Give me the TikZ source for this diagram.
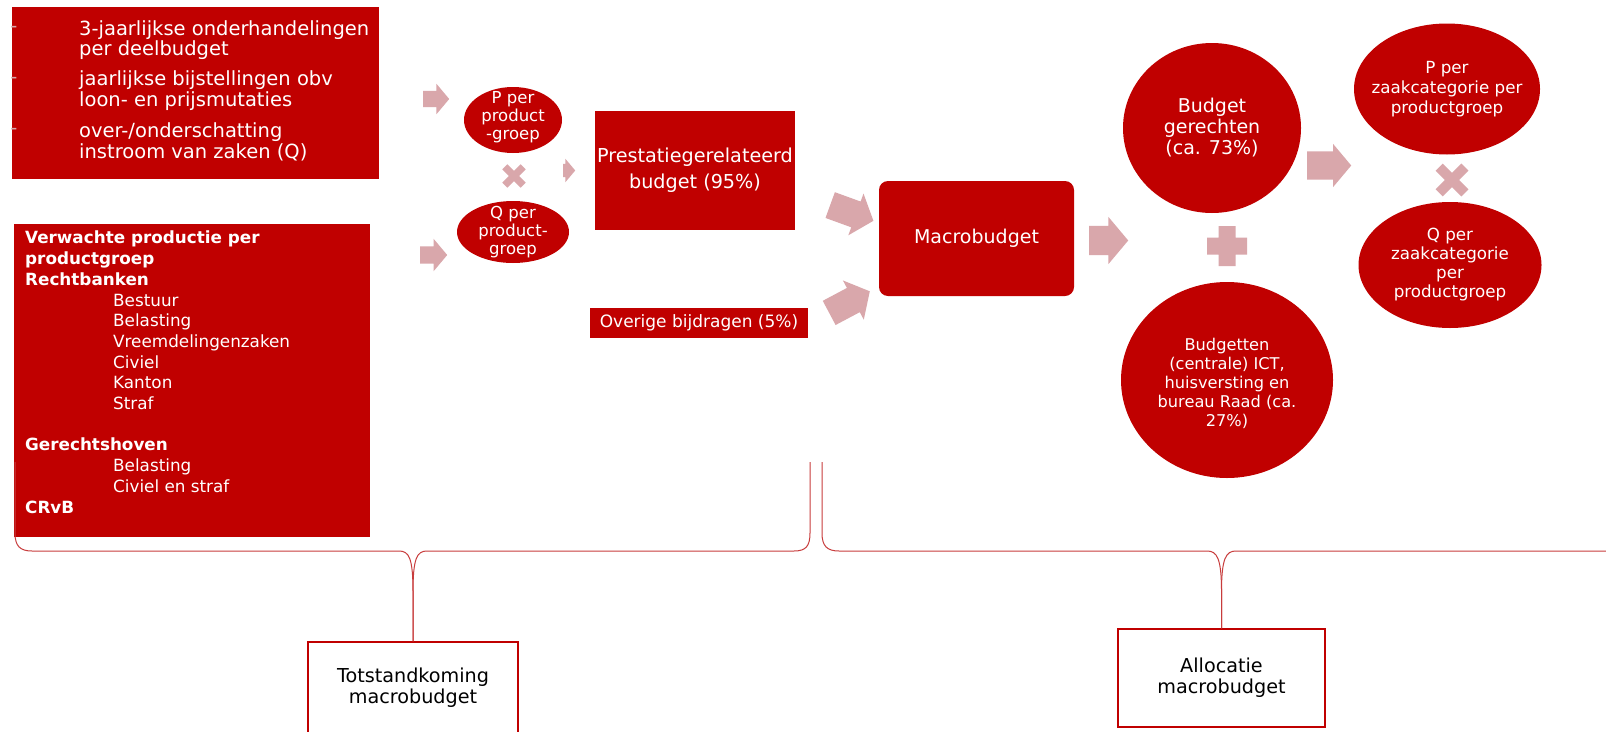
\documentclass[tikz,border=0pt]{standalone}
\usepackage{fontspec}
\setmainfont{DejaVu Sans}
\usetikzlibrary{shapes.geometric, shapes.arrows}

\definecolor{rjred}{HTML}{C00000}
\definecolor{rjpink}{HTML}{D9A7AB}
\definecolor{rjline}{HTML}{C83C3C}

\newcommand{\lijstin}{\hspace*{88pt}}

\tikzset{
  sz/.style 2 args = {font=\fontsize{#1}{#2}\selectfont},
  redbox/.style = {rectangle, fill=rjred, text=white, inner sep=0pt, align=center},
  redell/.style = {ellipse, fill=rjred, inner sep=0pt},
  intxt/.style 2 args = {text=white, align=center, inner sep=0pt, sz={#1}{#2}},
  labelbox/.style = {rectangle, draw=rjred, line width=1.5pt, fill=white, align=center, sz={19.2}{21}},
  blockarrow/.style n args = {3}{single arrow, fill=rjpink, inner sep=0pt, inner ysep=#3,
    single arrow head extend=#2, single arrow tip angle=100, minimum height=#1, anchor=tail},
  brace/.style = {draw=rjline, line width=1pt},
  timesmark/.pic = {\fill[rjpink, rotate=45] (-13,-3.6) rectangle (13,3.6) (-3.6,-13) rectangle (3.6,13);},
  plusmark/.pic = {\fill[rjpink] (-20,-8.5) rectangle (20,8.5) (-8.5,-20) rectangle (8.5,20);},
}

\begin{document}
\begin{tikzpicture}[x=1pt, y=-1pt]
  \clip (0,0) rectangle (1606,731);
  \fill[white] (0,0) rectangle (1606,731);

  % left column
  \node[redbox, minimum width=367, minimum height=172, anchor=north west] (onderh) at (12,7) {};
  \foreach \y/\n in {29/dA, 80/dB, 131/dC}
    \node[text=rjpink, inner sep=0pt, sz={19.5}{20.5}] (\n) at (14,\y) {-};
  \node[intxt={19.5}{20.5}, align=left, anchor=west] (bulA) at (79,40) {3-jaarlijkse onderhandelingen\\per deelbudget};
  \node[intxt={19.5}{20.5}, align=left, anchor=west] (bulB) at (79,90.5) {jaarlijkse bijstellingen obv\\loon- en prijsmutaties};
  \node[intxt={19.5}{20.5}, align=left, anchor=west] (bulC) at (79,142) {over-/onderschatting\\instroom van zaken (Q)};

  \node[redbox, minimum width=356, minimum height=313, anchor=north west] (verwacht) at (14,224) {};
  \node[intxt={16.8}{20.7}, align=left, anchor=north west] (lijst) at (25,231)
    {\textbf{Verwachte productie per}\\ \textbf{productgroep}\\ \textbf{Rechtbanken}\\
     \lijstin Bestuur\\ \lijstin Belasting\\ \lijstin Vreemdelingenzaken\\ \lijstin Civiel\\
     \lijstin Kanton\\ \lijstin Straf\\[20.7pt]
     \textbf{Gerechtshoven}\\ \lijstin Belasting\\ \lijstin Civiel en straf\\ \textbf{CRvB}};

  % P x Q
  \node[blockarrow={26}{7}{8}] (arrP) at (423,99) {};
  \node[blockarrow={27}{7.5}{8.5}] (arrQ) at (420,255) {};
  \node[redell, minimum width=98, minimum height=66,
    label={[intxt={16.5}{18}, yshift=3pt]center:P per\\product\\-groep}] (pgroep) at (513,120) {};
  \node[redell, minimum width=112, minimum height=62,
    label={[intxt={16.5}{18}]center:Q per\\product-\\groep}] (qgroep) at (513,232) {};
  \pic at (514,176) {timesmark};
  \node[blockarrow={12}{5}{6.5}] (arrS) at (563,170.5) {};

  \node[redbox, minimum width=200, minimum height=119, sz={19.2}{26}] (prest) at (695,170.5) {Prestatiegerelateerd\\budget (95\%)};
  \node[redbox, minimum width=218, minimum height=30, sz={17}{20}] (overig) at (699,323) {Overige bijdragen (5\%)};

  % macrobudget
  \node[blockarrow={46}{8.5}{13.5}, rotate=-20] (arrUp) at (830,205) {};
  \node[blockarrow={46}{8.5}{13.5}, rotate=28] (arrDn) at (829,313) {};
  \node[redbox, rounded corners=9pt, minimum width=195, minimum height=115, sz={19}{22}] (macro) at (976.5,238.5) {Macrobudget};
  \node[blockarrow={39}{9}{14.5}] (arrM) at (1089,240.5) {};

  % allocatie
  \node[redell, minimum width=178, minimum height=170,
    label={[intxt={19}{21}]center:Budget\\gerechten\\(ca. 73\%)}] (bger) at (1212,128) {};
  \pic at (1227,246) {plusmark};
  \node[redell, minimum width=212, minimum height=196,
    label={[intxt={16.2}{19}, yshift=-3.5pt]center:Budgetten\\(centrale) ICT,\\huisversting en\\bureau Raad (ca.\\27\%)}] (boverig) at (1227,380) {};
  \node[blockarrow={44}{7.5}{14}] (arrG) at (1307,165.5) {};
  \node[redell, minimum width=186, minimum height=131,
    label={[intxt={16.7}{20}]center:P per\\zaakcategorie per\\productgroep}] (pzaak) at (1447,89) {};
  \pic[scale=1.4] at (1452,180) {timesmark};
  \node[redell, minimum width=183, minimum height=126,
    label={[intxt={16.7}{19}]center:Q per\\zaakcategorie\\per\\productgroep}] (qzaak) at (1450,265) {};

  % accolades
  \node[labelbox, minimum width=210, minimum height=91] (totst) at (413,687.5) {Totstandkoming\\macrobudget};
  \node[labelbox, minimum width=207, minimum height=98] (alloc) at (1221.5,678) {Allocatie\\macrobudget};
  \coordinate (lbL) at (15,462);
  \coordinate (lbR) at (810,462);
  \coordinate (rbL) at (822,462);
  \coordinate (rbR) at (1640,462);

  \draw[brace] (lbL) -- (15,533) .. controls (15,546) and (20,551) .. (32,551) -- (399,551)
    .. controls (409,551) and (413,558) .. (413,592) -- (totst.north);
  \draw[brace] (totst.north) -- (413,592) .. controls (413,558) and (417,551) .. (427,551) -- (794,551)
    .. controls (806,551) and (810,546) .. (810,533) -- (lbR);
  \draw[brace] (rbL) -- (822,533) .. controls (822,546) and (827,551) .. (839,551) -- (1207,551)
    .. controls (1217,551) and (1221.5,558) .. (1221.5,592) -- (alloc.north);
  \draw[brace] (alloc.north) -- (1221.5,592) .. controls (1221.5,558) and (1226,551) .. (1236,551) -- (1625,551)
    .. controls (1637,551) and (1640,546) .. (1640,533) -- (rbR);
\end{tikzpicture}
\end{document}
